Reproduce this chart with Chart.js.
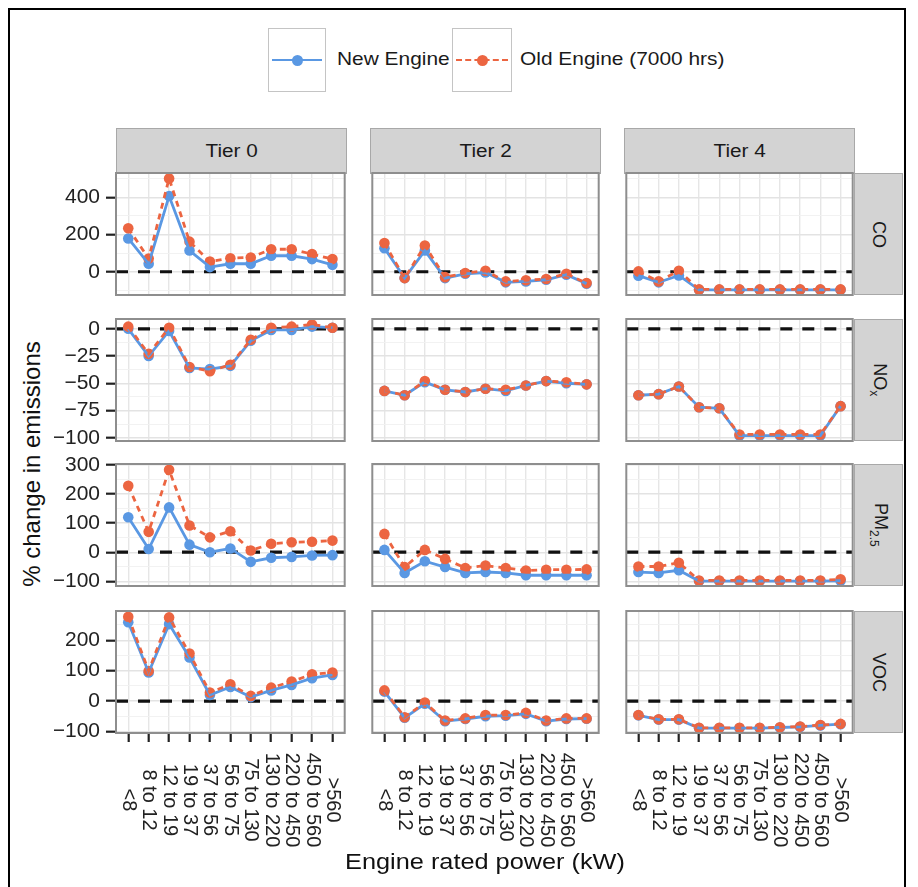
<!DOCTYPE html>
<html><head><meta charset="utf-8">
<script src="https://cdn.jsdelivr.net/npm/chart.js@4.4.1/dist/chart.umd.min.js"></script>
<style>
html,body{margin:0;padding:0;background:#fff;}
body{width:918px;height:887px;position:relative;overflow:hidden;font-family:"Liberation Sans",Arial,sans-serif;}
.frame{position:absolute;left:8px;top:8px;width:898px;height:920px;border:2px solid #000;box-sizing:border-box;}
.strip{position:absolute;background:#d3d3d3;border:1px solid #a8a8a8;box-sizing:border-box;color:#1a1a1a;font-size:18px;display:flex;align-items:center;justify-content:center;}
.strip.top span{display:inline-block;transform:scaleX(1.15);}
.rstrip span{display:inline-block;transform:rotate(90deg);white-space:nowrap;}
canvas{position:absolute;}
.key{position:absolute;border:1px solid #c4c4c4;box-sizing:border-box;background:#fff;}
.key .ln{position:absolute;left:3px;right:3px;top:50%;height:0;}
.key .dot{position:absolute;width:11px;height:11px;border-radius:50%;left:50%;top:50%;margin-left:-5.5px;margin-top:-5.5px;}
.ltxt{position:absolute;font-size:19px;color:#1a1a1a;white-space:nowrap;transform-origin:0 50%;transform:scaleX(1.1);}
.title{position:absolute;font-size:22px;color:#111;white-space:nowrap;}
</style>
</head><body>
<div class="frame"></div>
<div id="root"></div>
<script>
// ---- data ----
const categories = ['<8','8 to 12','12 to 19','19 to 37','37 to 56','56 to 75','75 to 130','130 to 220','220 to 450','450 to 560','>560'];
const tiers = ['Tier 0','Tier 2','Tier 4'];
const pollutants = ['CO','NOx','PM2.5','VOC'];
const seriesNames = ['New Engine','Old Engine (7000 hrs)'];

const coNewT0 = [179,43,407,114,25,43,43,86,86,68,37];
const coOldT0 = [234,71,502,162,55,73,77,121,121,95,68];
const coNewT2 = [127,-34,114,-34,-11,-4,-57,-52,-43,-16,-64];
const coOldT2 = [154,-34,141,-29,-7,5,-52,-46,-39,-11,-61];
const coNewT4 = [-21,-57,-20,-97,-97,-97,-97,-97,-97,-97,-97];
const coOldT4 = [2,-52,5,-95,-95,-95,-95,-95,-95,-95,-95];

const noxNewT0 = [0,-25,-2,-36,-37,-34,-11,-1,-1,2,1];
const noxOldT0 = [2,-23,1,-35,-39,-33,-10,1,2,4,1];
const noxNewT2 = [-57,-61,-49,-56,-58,-55,-57,-52,-48,-50,-51];
const noxOldT2 = [-57,-61,-48,-56,-58,-55,-56,-52,-48,-49,-51];
const noxNewT4 = [-61,-60,-53,-72,-73,-98,-98,-98,-98,-98,-71];
const noxOldT4 = [-61,-60,-53,-72,-73,-97,-97,-97,-97,-97,-71];

const pmNewT0 = [120,11,154,26,0,13,-33,-19,-16,-11,-10];
const pmOldT0 = [228,70,283,92,51,72,6,29,34,36,40];
const pmNewT2 = [8,-71,-31,-51,-71,-68,-71,-79,-79,-79,-79];
const pmOldT2 = [63,-51,8,-23,-54,-46,-54,-63,-60,-60,-59];
const pmNewT4 = [-68,-71,-62,-99,-99,-99,-99,-99,-99,-99,-98];
const pmOldT4 = [-49,-49,-36,-97,-97,-97,-97,-97,-97,-97,-93];

const vocNewT0 = [259,94,253,143,20,46,13,35,53,75,86];
const vocOldT0 = [277,99,275,156,28,55,17,44,64,88,94];
const vocNewT2 = [31,-55,-9,-66,-59,-50,-48,-42,-66,-59,-58];
const vocOldT2 = [35,-53,-5,-64,-57,-46,-46,-39,-64,-57,-57];
const vocNewT4 = [-47,-61,-61,-89,-89,-89,-89,-87,-85,-80,-76];
const vocOldT4 = [-46,-60,-60,-88,-88,-88,-88,-86,-84,-79,-75];

const coTicks = [0,200,400];      const coMinor = [-100,100,300,500];   const coLimits = [-125,531];
const noxTicks = [-100,-75,-50,-25,0]; const noxMinor = [-87.5,-62.5,-37.5,-12.5]; const noxLimits = [-103,9];
const pmTicks = [-100,0,100,200,300];  const pmMinor = [-50,50,150,250]; const pmLimits = [-116,303];
const vocTicks = [-100,0,100,200];     const vocMinor = [-50,50,150,250]; const vocLimits = [-105,296];

const newSeries = [[coNewT0,coNewT2,coNewT4],[noxNewT0,noxNewT2,noxNewT4],[pmNewT0,pmNewT2,pmNewT4],[vocNewT0,vocNewT2,vocNewT4]];
const oldSeries = [[coOldT0,coOldT2,coOldT4],[noxOldT0,noxOldT2,noxOldT4],[pmOldT0,pmOldT2,pmOldT4],[vocOldT0,vocOldT2,vocOldT4]];
const rowTicks = [coTicks,noxTicks,pmTicks,vocTicks];
const rowMinor = [coMinor,noxMinor,pmMinor,vocMinor];
const rowLimits = [coLimits,noxLimits,pmLimits,vocLimits];

// ---- layout ----
const colLeft = [116,370,624];
const panelW = 231;
const rowTop = [173,319,464,611];
const panelH = 122;
const BLUE = '#5a98e3';
const ORANGE = '#ec6541';
const FONT = '"Liberation Sans", Arial, sans-serif';

const root = document.getElementById('root');
function fmt(v){ return v < 0 ? '\u2212' + Math.abs(v) : String(v); }
function pts(arr){ return arr.map((v,i)=>({x:i,y:v})); }

// strips
tiers.forEach((t,c)=>{
  const d = document.createElement('div');
  d.className='strip top';
  d.style.cssText += `left:${colLeft[c]}px;top:128px;width:${panelW}px;height:46px;`;
  d.innerHTML = '<span>'+t+'</span>';
  root.appendChild(d);
});
const stripLabels = ['CO','NO<sub style="font-size:12px">x</sub>','PM<sub style="font-size:12px">2.5</sub>','VOC'];
pollutants.forEach((p,r)=>{
  const d = document.createElement('div');
  d.className='strip rstrip';
  d.style.cssText += `left:854px;top:${rowTop[r]}px;width:49px;height:${panelH}px;`;
  d.innerHTML = '<span>'+stripLabels[r]+'</span>';
  root.appendChild(d);
});

const panelPlugin = {
  id:'panelDeco',
  beforeDatasetsDraw(chart){
    const {ctx, chartArea:a, scales} = chart;
    const y = scales.y.getPixelForValue(0);
    ctx.save();
    ctx.beginPath(); ctx.rect(a.left,a.top,a.right-a.left,a.bottom-a.top); ctx.clip();
    ctx.strokeStyle = '#111'; ctx.lineWidth = 3.2; ctx.setLineDash([12,10]);
    ctx.beginPath(); ctx.moveTo(a.left,y); ctx.lineTo(a.right,y); ctx.stroke();
    ctx.restore();
  },
  afterDraw(chart){
    const {ctx, chartArea:a, scales} = chart;
    ctx.save();
    ctx.strokeStyle = '#8e8e8e'; ctx.lineWidth = 2;
    ctx.strokeRect(a.left,a.top,a.right-a.left,a.bottom-a.top);
    if (chart.options.plugins.panelDeco && chart.options.plugins.panelDeco.xLabels) {
      ctx.fillStyle = '#222';
      ctx.font = '20px ' + FONT;
      ctx.textAlign = 'center'; ctx.textBaseline = 'middle';
      categories.forEach((c,i)=>{
        const x = scales.x.getPixelForValue(i);
        ctx.save(); ctx.translate(x, a.bottom + 67); ctx.rotate(Math.PI/2);
        ctx.fillText(c,0,0); ctx.restore();
      });
    }
    ctx.restore();
  }
};

for (let r=0;r<4;r++){
  for (let c=0;c<3;c++){
    const isLeft = c===0, isBottom = r===3;
    const yW = isLeft ? 62 : 0, xH = isBottom ? 10 : 0;
    const padL=3, padR=3, padT=14, padB = isBottom ? 120 : 14;
    const cv = document.createElement('canvas');
    cv.width = padL+yW+panelW+padR; cv.height = padT+panelH+xH+padB;
    cv.style.left = (colLeft[c]-yW-padL)+'px';
    cv.style.top = (rowTop[r]-padT)+'px';
    root.appendChild(cv);
    const majors = rowTicks[r], minors = rowMinor[r];
    const allTicks = majors.concat(minors).sort((a,b)=>a-b);
    const isMajor = v => majors.includes(v);
    new Chart(cv, {
      type:'line',
      data:{datasets:[
        {label:seriesNames[1], data:pts(oldSeries[r][c]), borderColor:ORANGE, borderWidth:2.8, borderDash:[6,5], pointRadius:0, fill:false, tension:0},
        {label:seriesNames[0], data:pts(newSeries[r][c]), borderColor:BLUE, borderWidth:2.8, pointRadius:0, fill:false, tension:0},
        {label:seriesNames[1], data:pts(oldSeries[r][c]), showLine:false, pointRadius:5.3, pointBackgroundColor:ORANGE, pointBorderWidth:0, borderColor:ORANGE},
        {label:seriesNames[0], data:pts(newSeries[r][c]), showLine:false, pointRadius:5.3, pointBackgroundColor:BLUE, pointBorderWidth:0, borderColor:BLUE}
      ]},
      options:{
        responsive:false, animation:false, events:[],
        layout:{padding:{left:padL,right:padR,top:padT,bottom:padB}},
        plugins:{legend:{display:false}, tooltip:{enabled:false}, panelDeco:{xLabels:isBottom}},
        scales:{
          x:{type:'linear', min:-0.6, max:10.6,
             afterBuildTicks:s=>{ s.ticks = categories.map((_,i)=>({value:i})); },
             ticks:{display:false},
             grid:{color:'#e6e6e6', lineWidth:1.4, drawTicks:isBottom, tickLength:9, tickColor:'#222', tickWidth:2.2},
             border:{display:false},
             afterFit:s=>{ s.height = xH; s.paddingLeft=0; s.paddingRight=0; }},
          y:{type:'linear', min:rowLimits[r][0], max:rowLimits[r][1],
             afterBuildTicks:s=>{ s.ticks = allTicks.map(v=>({value:v})); },
             ticks:{display:isLeft, autoSkip:false, padding:6, color:'#222', font:{size:21, family:FONT},
                    callback:(v)=> isMajor(v) ? fmt(v) : ''},
             grid:{color:ctx=> (ctx.tick && isMajor(ctx.tick.value)) ? '#e3e3e3' : '#f0f0f0',
                   lineWidth:ctx=> (ctx.tick && isMajor(ctx.tick.value)) ? 1.4 : 0.9,
                   drawTicks:isLeft, tickLength:10, tickWidth:2.2,
                   tickColor:ctx=> (ctx.tick && isMajor(ctx.tick.value)) ? '#222' : 'rgba(0,0,0,0)'},
             border:{display:false},
             afterFit:s=>{ s.width = yW; s.paddingTop=0; s.paddingBottom=0; }}
        }
      },
      plugins:[panelPlugin]
    });
  }
}

// legend
function addKey(left, width, color, dashed){
  const k = document.createElement('div');
  k.className='key';
  k.style.cssText += `left:${left}px;top:28px;width:${width}px;height:64px;`;
  const ln = document.createElement('div'); ln.className='ln';
  ln.style.borderTop = `2.8px ${dashed?'dashed':'solid'} ${color}`;
  ln.style.marginTop='-1.4px';
  const dot = document.createElement('div'); dot.className='dot'; dot.style.background=color;
  k.appendChild(ln); k.appendChild(dot);
  root.appendChild(k);
}
addKey(268,58,BLUE,false);
addKey(452,60,ORANGE,true);
function addText(cls, txt, css){
  const d=document.createElement('div'); d.className=cls; d.textContent=txt; d.style.cssText+=css; root.appendChild(d); return d;
}
addText('ltxt', seriesNames[0], 'left:337px;top:48px;');
addText('ltxt', seriesNames[1], 'left:520px;top:48px;');
addText('title','Engine rated power (kW)','left:485px;top:849px;transform:translateX(-50%) scaleX(1.15);');
addText('title','% change in emissions','left:32px;top:464px;transform:translate(-50%,-50%) rotate(-90deg);font-size:24px;');
</script>
</body></html>
